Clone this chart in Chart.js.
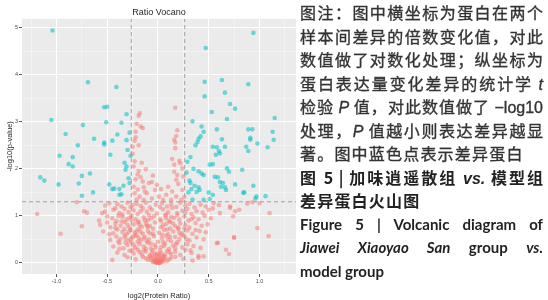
<!DOCTYPE html>
<html>
<head>
<meta charset="utf-8">
<script src="https://cdn.jsdelivr.net/npm/chart.js@4.4.0/dist/chart.umd.min.js"></script>
<style>
html, body { margin: 0; padding: 0; background: #fff; width: 548px; height: 300px; overflow: hidden; }
#chartbox { position: absolute; left: 0; top: 0; width: 300px; height: 300px; }
#caption { position: absolute; left: 300px; top: 1px; width: 243px; font-family: "Noto Sans CJK SC", sans-serif; font-size: 16px; line-height: 23.5px; color: #333; -webkit-text-stroke: 0.35px #333; }
.ln { text-align: justify; text-align-last: justify; height: 23.5px; }
.ln.left { text-align-last: left; letter-spacing: 1.2px; }
.b { font-weight: bold; color: #222; -webkit-text-stroke: 0; }
.en { font-family: Lato, "Liberation Sans", sans-serif; font-size: 15px; font-weight: bold; color: #222; -webkit-text-stroke: 0; }
i { font-family: "Liberation Sans", sans-serif; }
</style>
</head>
<body>
<div id="chartbox"><canvas id="chartcanvas" width="300" height="300"></canvas></div>
<div id="caption">
  <div class="ln">图注：图中横坐标为蛋白在两个</div>
  <div class="ln">样本间差异的倍数变化值，对此</div>
  <div class="ln">数值做了对数化处理；纵坐标为</div>
  <div class="ln">蛋白表达量变化差异的统计学 <i>t</i></div>
  <div class="ln">检验 <i>P</i> 值，对此数值做了 <span style="font-family:'Liberation Sans'">−log10</span></div>
  <div class="ln">处理，<i>P</i> 值越小则表达差异越显</div>
  <div class="ln left">著。图中蓝色点表示差异蛋白</div>
  <div class="ln b">图 5 | 加味逍遥散组 <i>vs.</i> 模型组</div>
  <div class="ln left b">差异蛋白火山图</div>
  <div class="ln en">Figure 5 | Volcanic diagram of</div>
  <div class="ln en"><i style="font-family:Lato">Jiawei Xiaoyao San</i> group <i style="font-family:Lato">vs.</i></div>
  <div class="ln en" style="text-align-last:left">model group</div>
</div>
<script>
const canvas = document.getElementById('chartcanvas');
const ctx = canvas.getContext('2d');

// axis ticks
const xMajor = [-1.0, -0.5, 0.0, 0.5, 1.0];
const xLabels = ['-1.0', '-0.5', '0.0', '0.5', '1.0'];
const xMinor = [-1.25, -0.75, -0.25, 0.25, 0.75, 1.25];
const yMajor = [0, 1, 2, 3, 4, 5];
const yLabels = ['0', '1', '2', '3', '4', '5'];
const yMinor = [0.5, 1.5, 2.5, 3.5, 4.5];
const xRange = [-1.34, 1.36];
const yRange = [-0.235, 5.19];

// cut-offs: log2(1.2) and -log10(0.05)
const fcCut = 0.263;
const pCut = 1.301;

// significant proteins (blue), [log2 ratio, -log10 p]
const sigDown = [
  [-1.04,4.94],[-0.69,3.84],[-0.41,3.74],[-0.53,3.31],[-0.50,3.32],[-0.31,3.16],[-1.05,3.04],
  [-0.51,2.99],[-0.36,2.98],[-0.74,2.93],[-0.28,2.77],[-0.91,2.74],[-0.40,2.73],[-0.63,2.64],
  [-0.45,2.60],[-0.31,2.61],[-0.53,2.56],[-0.53,2.52],[-0.79,2.50],[-0.97,2.28],[-0.84,2.25],
  [-0.88,2.10],[-0.84,2.05],[-0.47,2.30],[-0.27,2.28],[-0.33,2.13],[-0.31,2.05],[-0.32,1.98],
  [-1.16,1.82],[-1.12,1.75],[-0.98,1.67],[-0.78,1.69],[-0.75,1.85],[-0.67,1.90],[-0.75,1.43],
  [-0.64,1.50],[-0.48,1.67],[-0.45,1.57],[-0.43,1.58],[-0.38,1.57],[-0.34,1.64],[-0.38,1.45],
  [-0.36,1.46],[-0.29,1.80],[-0.28,1.70],[-0.30,2.40]
];
const sigUp = [
  [0.94,4.89],[0.47,4.57],[0.46,3.85],[0.63,3.89],[0.89,3.80],[0.66,3.62],[0.46,3.54],[0.71,3.38],
  [0.76,3.28],[0.53,3.21],[0.68,3.06],[0.34,3.01],[0.43,2.90],[0.58,2.84],[0.89,2.84],[0.93,2.84],
  [0.45,2.79],[0.42,2.69],[0.40,2.64],[0.63,2.63],[0.91,2.62],[0.39,2.57],[0.98,2.54],[0.37,2.50],
  [0.54,2.47],[0.58,2.46],[0.66,2.47],[0.87,2.47],[1.08,2.46],[1.15,3.08],[1.13,2.79],[1.14,2.62],
  [0.32,2.25],[0.61,2.33],[0.89,2.38],[0.35,2.00],[0.40,1.95],[0.43,1.90],[0.51,2.09],[0.54,2.10],
  [0.68,2.01],[0.70,1.94],[0.45,1.87],[0.56,1.83],[0.59,1.82],[0.31,1.75],[0.32,1.70],[0.36,1.64],
  [0.40,1.61],[0.41,1.55],[0.38,1.51],[0.34,1.35],[0.45,1.34],[0.61,1.72],[0.64,1.70],[0.62,1.62],
  [0.66,1.61],[0.67,1.55],[0.76,1.67],[0.54,1.45],[0.85,1.50],[0.94,1.64],[0.97,1.41],[0.96,1.37],
  [0.51,1.36],[0.83,1.98],[0.91,2.66],[0.57,2.30],[0.60,2.38],[0.30,1.50],[0.33,1.57],[0.50,1.50],
  [0.84,1.49],[0.28,1.92],[0.29,2.15],[1.06,1.42]
];

// non-significant proteins (red)
const nsAbove = [
  [-0.18,3.18],[0.17,3.30],[-0.21,2.96],[-0.15,2.87],[-0.17,2.90],[-0.22,2.79],[0.19,2.82],[-0.22,2.67],
  [0.17,2.56],[-0.25,2.47],[0.17,2.44],[-0.19,3.13],[-0.23,2.60],[-0.19,2.50],[0.18,2.70],[0.16,2.62],
  [-0.25,2.32],[-0.23,2.16],[-0.24,2.05],[-0.19,1.96],[-0.17,1.82],[-0.15,1.73],[-0.14,1.61],[-0.11,1.48],
  [-0.09,1.70],[-0.05,1.86],[-0.03,1.55],[0.01,1.41],[0.03,1.57],[0.05,1.34],[-0.23,1.48],[-0.21,1.35],
  [-0.18,1.41],[-0.14,1.34],[-0.06,1.37],[0.14,2.21],[0.22,2.12],[0.24,2.01],[0.25,1.84],[0.16,1.94],
  [0.18,1.77],[0.20,1.68],[0.24,1.55],[0.18,1.41],[0.13,1.34],[0.10,1.62],[0.26,1.40],[0.08,1.45],
  [0.23,1.34],[-0.01,1.66],[-0.12,1.99],[-0.16,2.13],[0.16,2.09],[-0.20,1.88],[-0.22,1.78],[-0.13,1.52],
  [0.21,2.17],[0.14,1.52],[-0.06,1.72],[0.19,1.87],[-0.24,1.62],[-0.20,1.56]
];
const nsBelow = [
  [-0.80,1.29],[-0.52,1.22],[-0.48,1.27],[-0.42,1.16],[-0.40,1.25],[-0.36,1.20],[-0.30,1.28],[-0.27,1.19],
  [-0.21,1.26],[-0.17,1.21],[-0.12,1.28],[-0.08,1.18],[-0.02,1.24],[0.04,1.27],[0.09,1.20],[0.13,1.25],
  [0.18,1.19],[0.22,1.28],[0.27,1.22],[0.31,1.26],[0.36,1.18],[0.42,1.24],[0.47,1.20],[0.55,1.27],
  [0.71,1.20],[0.88,1.26],[0.93,1.29],[1.00,1.27],[-0.25,1.23],[0.02,1.19],[0.60,1.23],
  [-1.19,1.04],[-0.73,1.10],[-0.70,1.07],[-0.55,1.06],[-0.52,1.09],[-0.44,1.13],[-0.38,1.06],[-0.33,1.15],
  [-0.29,1.08],[-0.24,1.12],[-0.20,1.04],[-0.15,1.16],[-0.11,1.09],[-0.06,1.13],[-0.01,1.05],[0.05,1.14],
  [0.10,1.08],[0.14,1.17],[0.19,1.06],[0.24,1.11],[0.29,1.15],[0.33,1.04],[0.38,1.10],[0.44,1.07],
  [0.50,1.13],[0.54,1.16],[0.61,1.06],[0.71,1.17],[0.76,1.10],[0.80,1.13],[1.10,1.06],[-0.35,1.03],
  [-0.17,1.10],[0.08,1.03],[0.27,1.07],
  [-0.58,0.90],[-0.50,0.99],[-0.45,0.95],[-0.41,0.89],[-0.35,0.98],[-0.31,0.92],[-0.26,1.00],[-0.22,0.93],
  [-0.19,0.88],[-0.14,0.97],[-0.10,0.91],[-0.04,0.99],[0.02,0.93],[0.07,1.01],[0.11,0.89],[0.16,0.96],
  [0.21,0.92],[0.26,0.99],[0.30,0.90],[0.35,0.97],[0.40,0.93],[0.46,1.00],[0.52,0.95],[0.74,0.99],
  [-0.28,0.96],[-0.07,0.95],[0.13,0.98],[-0.39,1.00],[0.33,0.93],
  [-0.75,0.78],[-0.57,0.81],[-0.50,0.86],[-0.47,0.76],[-0.42,0.83],[-0.37,0.79],[-0.33,0.87],[-0.28,0.75],
  [-0.24,0.82],[-0.20,0.86],[-0.16,0.77],[-0.12,0.84],[-0.08,0.79],[-0.03,0.86],[0.03,0.76],[0.08,0.83],
  [0.12,0.87],[0.17,0.78],[0.22,0.84],[0.27,0.80],[0.31,0.75],[0.37,0.85],[0.43,0.79],[0.49,0.82],
  [0.98,0.74],[-0.30,0.81],[-0.10,0.76],[0.05,0.80],[0.20,0.75],[-0.18,0.81],
  [-0.96,0.62],[-0.54,0.67],[-0.44,0.63],[-0.40,0.71],[-0.35,0.66],[-0.31,0.61],[-0.27,0.70],[-0.23,0.64],
  [-0.19,0.72],[-0.15,0.62],[-0.10,0.68],[-0.05,0.73],[0.01,0.64],[0.06,0.70],[0.10,0.61],[0.15,0.67],
  [0.20,0.72],[0.24,0.63],[0.29,0.69],[0.34,0.62],[0.41,0.68],[0.47,0.65],[-0.21,0.68],[-0.08,0.63],
  [0.12,0.73],[-0.33,0.72],[0.26,0.73],
  [-0.47,0.49],[-0.41,0.56],[-0.37,0.51],[-0.33,0.58],[-0.29,0.47],[-0.25,0.54],[-0.21,0.59],[-0.17,0.48],
  [-0.13,0.55],[-0.09,0.50],[-0.04,0.57],[0.04,0.52],[0.08,0.58],[0.13,0.46],[0.17,0.55],[0.21,0.50],
  [0.26,0.57],[0.31,0.48],[0.38,0.54],[0.45,0.50],[0.58,0.42],[0.75,0.55],[1.09,0.57],[0.75,0.53],
  [-0.27,0.51],[-0.11,0.46],[0.10,0.50],[-0.19,0.53],[0.23,0.59],[-0.39,0.46],
  [-0.44,0.35],[-0.38,0.42],[-0.34,0.31],[-0.30,0.38],[-0.26,0.44],[-0.22,0.33],[-0.18,0.40],[-0.14,0.35],
  [-0.10,0.43],[-0.07,0.31],[-0.03,0.38],[0.03,0.34],[0.07,0.41],[0.11,0.30],[0.15,0.37],[0.19,0.44],
  [0.24,0.33],[0.29,0.40],[0.35,0.36],[0.42,0.32],[0.59,0.43],[-0.24,0.38],[-0.12,0.30],[0.05,0.44],
  [0.17,0.31],[-0.32,0.43],
  [-0.40,0.22],[-0.33,0.17],[-0.28,0.26],[-0.24,0.20],[-0.20,0.28],[-0.16,0.18],[-0.12,0.24],[-0.08,0.16],
  [-0.05,0.27],[-0.03,0.19],[0.03,0.21],[0.05,0.15],[0.09,0.26],[0.13,0.19],[0.17,0.24],[0.22,0.17],
  [0.27,0.28],[0.33,0.21],[0.40,0.15],[0.67,0.28],[0.70,0.19],[-0.06,0.22],[0.07,0.18],[-0.14,0.27],
  [0.11,0.23],
  [-0.45,0.06],[-0.30,0.12],[-0.22,0.08],[-0.15,0.13],[-0.10,0.07],[-0.06,0.11],[-0.04,0.05],[-0.02,0.09],
  [0.00,0.06],[0.02,0.10],[0.04,0.05],[0.07,0.12],[0.11,0.08],[0.17,0.13],[0.25,0.09],[0.34,0.05],
  [0.40,0.11],[0.45,0.14],[-0.08,0.14],[0.05,0.13],[-0.01,0.12],[0.01,0.14],
  [-0.03,0.03],[-0.02,0.01],[-0.01,0.02],[0.00,0.00],[0.005,0.01],[0.01,0.03],[0.02,0.02],[0.03,0.04],
  [-0.015,0.005],[0.015,0.0],[-0.025,0.02],[0.025,0.01]
];
// extra points in the dense middle of the cloud
const nsCore = [
  [-0.26,0.92],[-0.23,0.58],[-0.20,0.45],[-0.17,0.66],[-0.14,0.52],[-0.11,0.79],[-0.07,0.41],[-0.05,0.62],
  [-0.02,0.33],[0.00,0.45],[0.02,0.27],[0.04,0.60],[0.06,0.36],[0.09,0.71],[0.12,0.55],[0.15,0.84],
  [0.18,0.40],[0.21,0.64],[-0.29,0.66],[-0.32,0.52],[-0.36,0.88],[-0.25,0.28],[-0.18,0.23],[-0.13,0.91],
  [-0.09,1.02],[0.03,0.89],[0.08,0.95],[0.19,1.02],[-0.01,0.20],[0.01,0.18],[-0.04,0.14],[0.06,0.08],
  [-0.07,0.06],[0.09,0.04],[-0.02,0.04],[0.03,0.07],[-0.05,0.02],[0.05,0.03],[-0.12,0.10],[0.13,0.11],
  [-0.42,0.74],[-0.48,0.61],[0.37,0.70],[0.28,0.50],[-0.38,0.30],[0.32,0.27]
];

function toXY(arr){
  return arr.map(p => ({x: p[0], y: p[1]}));
}

const blue = 'rgba(0, 191, 196, 0.55)';
const red = 'rgba(248, 118, 109, 0.5)';
const dashColor = '#a3a3a3';

const panelBg = {
  id: 'panelBg',
  beforeDraw(chart) {
    const a = chart.chartArea;
    const c = chart.ctx;
    c.save();
    c.fillStyle = '#EBEBEB';
    c.fillRect(a.left, a.top, a.right - a.left, a.bottom - a.top);
    c.restore();
  }
};

function axisTicks(major, minor){
  return function(scale){
    scale.ticks = major.concat(minor).sort((a, b) => a - b).map(v => ({value: v}));
  };
}

function gridOpts(major){
  return {
    color: c => major.includes(c.tick.value) ? '#ffffff' : 'rgba(255,255,255,0.6)',
    lineWidth: c => major.includes(c.tick.value) ? 1 : 0.6,
    tickColor: c => major.includes(c.tick.value) ? '#555555' : 'rgba(0,0,0,0)',
    tickWidth: 1,
    tickLength: 3,
    drawTicks: true,
  };
}

const tickFont = {family: '"Liberation Sans", Arial, sans-serif', size: 5.5};
const titleFont = {family: '"Liberation Sans", Arial, sans-serif', size: 7.5};

const options = {
  responsive: false,
  devicePixelRatio: 1,
  animation: false,
  events: [],
  layout: {
    padding: {left: 0, right: 3, top: 0, bottom: 0}
  },
  scales: {
    x: {
      type: 'linear',
      position: 'bottom',
      min: xRange[0],
      max: xRange[1],
      afterBuildTicks: axisTicks(xMajor, xMinor),
      afterFit: scale => { scale.height = 26; },
      border: {display: false},
      grid: gridOpts(xMajor),
      ticks: {
        autoSkip: false,
        maxRotation: 0,
        padding: 1,
        color: '#4d4d4d',
        font: tickFont,
        callback: v => { const i = xMajor.indexOf(v); return i >= 0 ? xLabels[i] : ''; }
      },
      title: {
        display: true,
        text: 'log2(Protein Ratio)',
        color: '#262626',
        font: titleFont,
        padding: {top: 0, bottom: 0}
      }
    },
    y: {
      type: 'linear',
      position: 'left',
      min: yRange[0],
      max: yRange[1],
      afterBuildTicks: axisTicks(yMajor, yMinor),
      afterFit: scale => { scale.width = 22; },
      border: {display: false},
      grid: gridOpts(yMajor),
      ticks: {
        autoSkip: false,
        padding: 1,
        color: '#4d4d4d',
        font: tickFont,
        callback: v => { const i = yMajor.indexOf(v); return i >= 0 ? yLabels[i] : ''; }
      },
      title: {
        display: true,
        text: '-log10(p-value)',
        color: '#262626',
        font: titleFont,
        padding: {top: 5, bottom: 0}
      }
    }
  },
  elements: {
    point: {radius: 2.3, borderWidth: 0}
  },
  plugins: {
    legend: {display: false},
    tooltip: {enabled: false},
    title: {
      display: true,
      text: 'Ratio Vocano',
      fullSize: false,
      color: '#1f1f1f',
      font: {family: '"Liberation Sans", Arial, sans-serif', size: 9, weight: 'normal'},
      padding: {top: 7, bottom: 1}
    }
  }
};

const config = {
  type: 'scatter',
  data: {
    datasets: [
      {data: [{x: -fcCut, y: yRange[0]}, {x: -fcCut, y: yRange[1]}], showLine: true, borderColor: dashColor, borderWidth: 1, borderDash: [4, 3], pointRadius: 0, order: 0},
      {data: [{x: fcCut, y: yRange[0]}, {x: fcCut, y: yRange[1]}], showLine: true, borderColor: dashColor, borderWidth: 1, borderDash: [4, 3], pointRadius: 0, order: 0},
      {data: [{x: xRange[0], y: pCut}, {x: xRange[1], y: pCut}], showLine: true, borderColor: dashColor, borderWidth: 1, borderDash: [4, 3], pointRadius: 0, order: 0},
      {data: toXY(sigDown), backgroundColor: blue, borderColor: blue, order: 1},
      {data: toXY(sigUp), backgroundColor: blue, borderColor: blue, order: 1},
      {data: toXY(nsAbove), backgroundColor: red, borderColor: red, order: 2},
      {data: toXY(nsBelow), backgroundColor: red, borderColor: red, order: 2},
      {data: toXY(nsCore), backgroundColor: red, borderColor: red, order: 2}
    ]
  },
  options: options,
  plugins: [panelBg]
};

const volcanoChart = new Chart(ctx, config);
</script>
</body>
</html>
